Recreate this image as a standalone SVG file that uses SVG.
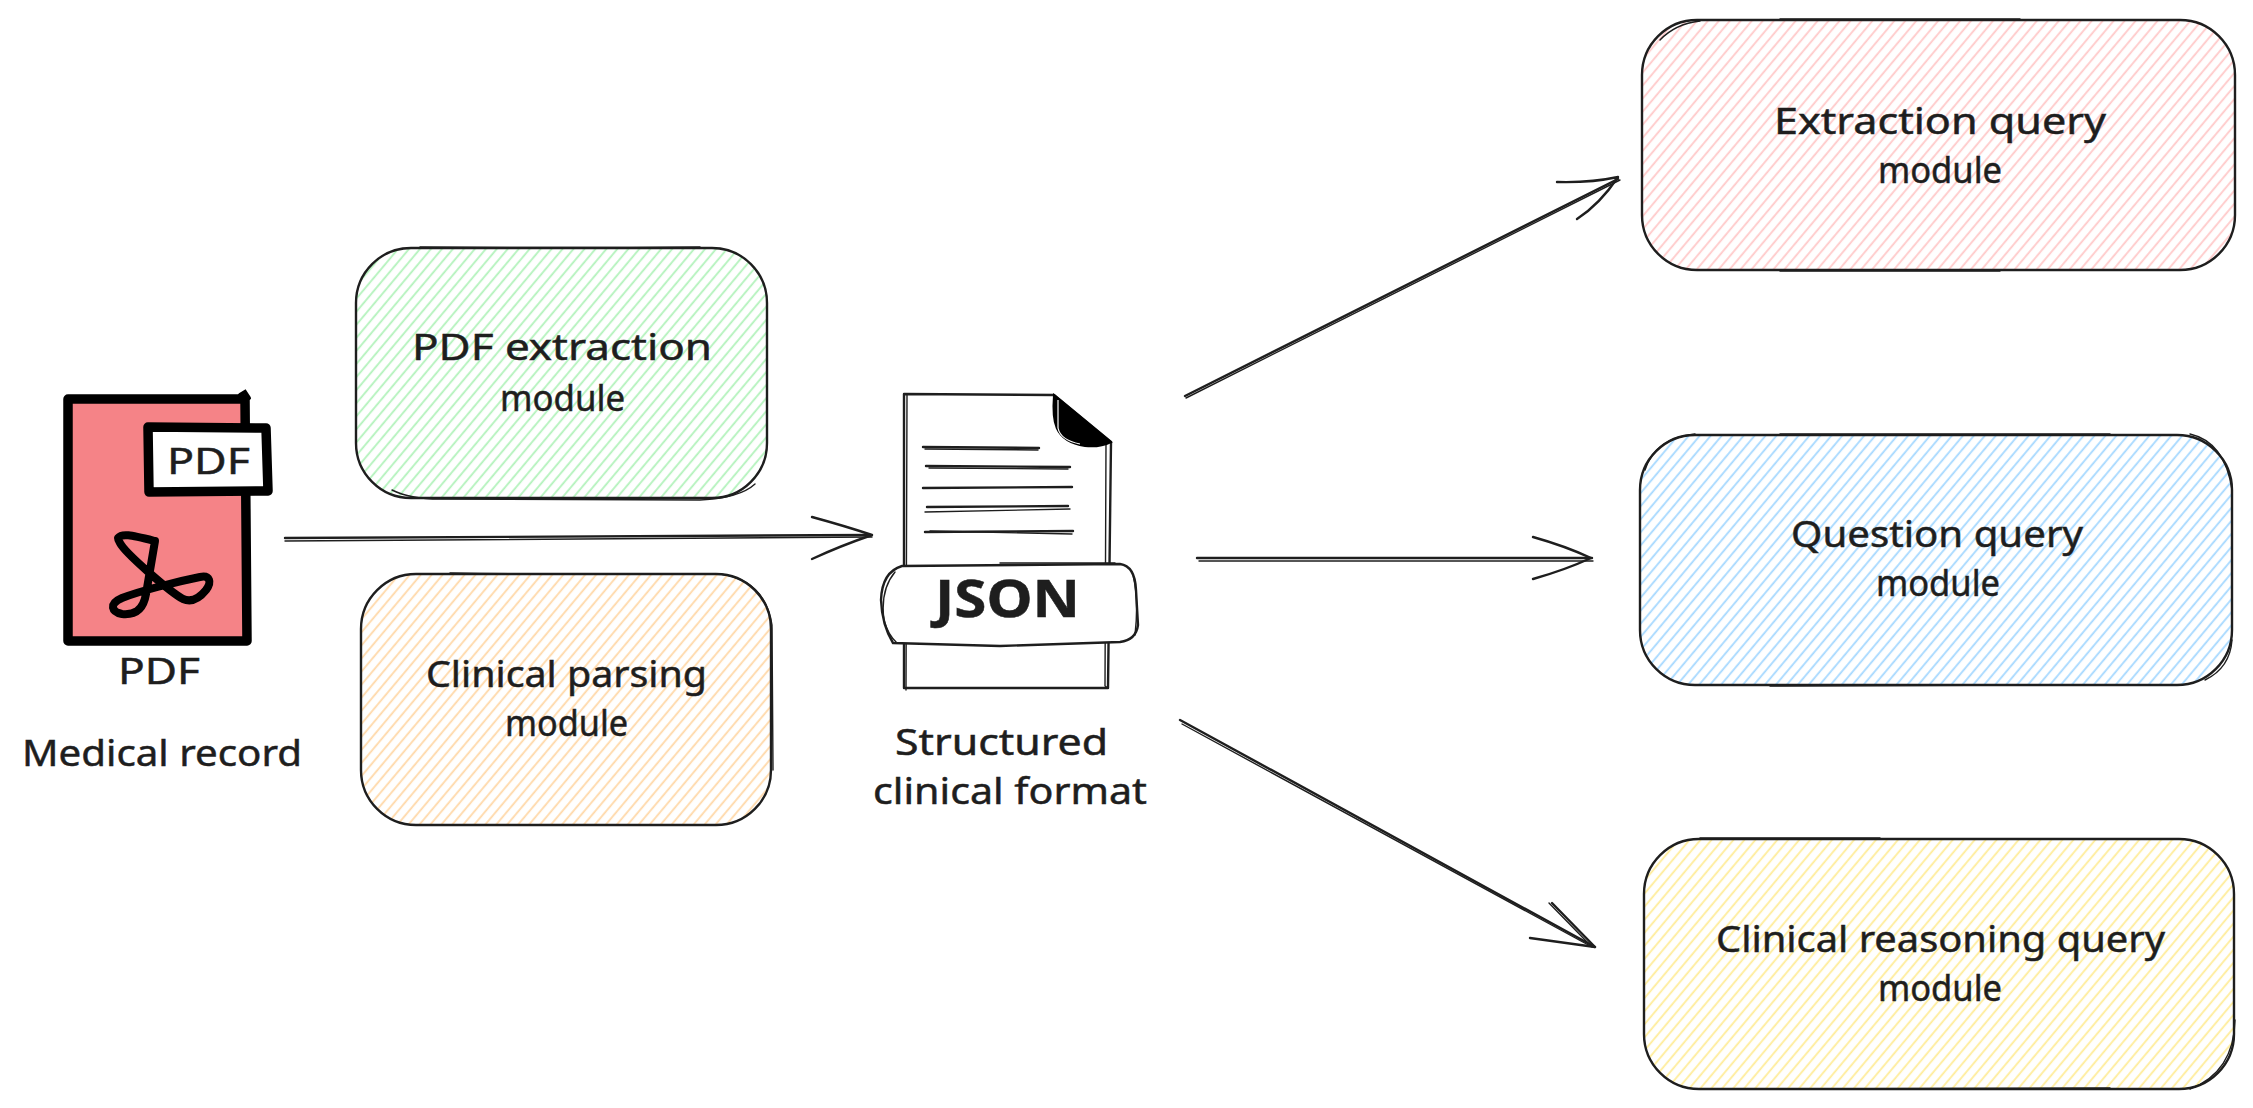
<svg xmlns="http://www.w3.org/2000/svg" width="2253" height="1108" viewBox="0 0 2253 1108">
<style>
.t{font-family:"Noto Sans","Liberation Sans",sans-serif;font-size:37px;fill:#1e1e1e;stroke:#1e1e1e;stroke-width:.5}
.o{fill:none;stroke:#1e1e1e;stroke-width:2.4;stroke-linecap:round;stroke-linejoin:round}
.o2{fill:none;stroke:#1e1e1e;stroke-width:1.4;stroke-linecap:round;stroke-linejoin:round}
.h{stroke-width:1.8}
.k{fill:none;stroke:#000;stroke-linejoin:round;stroke-linecap:round}
</style>
<defs>
<pattern id="hg" width="8.4" height="40" patternUnits="userSpaceOnUse" patternTransform="rotate(40)"><line class="h" x1="3" y1="0" x2="3" y2="40" stroke="#b2f2bb"/></pattern>
<pattern id="ho" width="8.4" height="40" patternUnits="userSpaceOnUse" patternTransform="rotate(40)"><line class="h" x1="3" y1="0" x2="3" y2="40" stroke="#ffd8a8"/></pattern>
<pattern id="hp" width="8.4" height="40" patternUnits="userSpaceOnUse" patternTransform="rotate(40)"><line class="h" x1="3" y1="0" x2="3" y2="40" stroke="#ffc9c9"/></pattern>
<pattern id="hb" width="8.4" height="40" patternUnits="userSpaceOnUse" patternTransform="rotate(40)"><line class="h" x1="3" y1="0" x2="3" y2="40" stroke="#a5d8ff"/></pattern>
<pattern id="hy" width="8.4" height="40" patternUnits="userSpaceOnUse" patternTransform="rotate(40)"><line class="h" x1="3" y1="0" x2="3" y2="40" stroke="#ffec99"/></pattern>
</defs>
<rect width="2253" height="1108" fill="#fff"/>

<g id="connectors">
<path class="o" d="M285 538 L870 535"/><path class="o2" d="M285 541 L872 537"/>
<path class="o" d="M812 517 Q845 526 872 535 Q840 546 812 559"/>
<path class="o" d="M1197 558 L1592 558"/><path class="o2" d="M1199 561 L1593 561"/>
<path class="o" d="M1533 537 Q1565 546 1591 558 Q1565 570 1533 579"/>
<path class="o" d="M1185 396 L1618 179"/><path class="o2" d="M1186 398 L1620 180"/>
<path class="o" d="M1557 182 Q1590 183 1618 177 Q1600 204 1577 219"/>
<path class="o" d="M1180 720 L1595 947"/><path class="o2" d="M1182 724 L1592 947"/>
<path class="o" d="M1552 903 L1595 947 L1530 938"/><path class="o2" d="M1549 903 L1590 945"/>
</g>

<g id="pdf-icon">
<path d="M68 399 L245 399 L247 641 L68 641 Z" fill="#f58387" stroke="#000" stroke-width="9.5" stroke-linejoin="round"/>
<path d="M240 395 L245 392 L249 398" fill="none" stroke="#000" stroke-width="4" stroke-linecap="round"/>
<path d="M148 427 L266 428 L268 491 L149 492 Z" fill="#fff" stroke="#000" stroke-width="9.5" stroke-linejoin="round"/>
<path class="k" stroke-width="8" d="M118 538 C122 533 130 535 155 541 L146 594 C143 612 133 615 122 614 C112 612 108 604 122 598 C140 591 175 582 200 577 C210 575 212 582 206 590 C198 600 190 602 183 599 C170 592 125 553 120 543 Q118 540 118 538 Z"/>
<text class="t" x="167" y="474" textLength="83" lengthAdjust="spacingAndGlyphs">PDF</text>
<text class="t" x="118" y="684" textLength="82" lengthAdjust="spacingAndGlyphs">PDF</text>
<text class="t" x="22" y="766" textLength="280" lengthAdjust="spacingAndGlyphs">Medical record</text>
</g>

<g id="pdf-extraction-module">
<rect x="356" y="248" width="411" height="250" rx="55" fill="url(#hg)"/>
<rect class="o" x="356" y="248" width="411" height="250" rx="55"/>
<path class="o2" d="M420 247 Q560 248 700 247 M392 490 Q410 499 440 499 L700 500 Q740 498 755 484"/>
<text class="t" x="412" y="360" textLength="300" lengthAdjust="spacingAndGlyphs">PDF extraction</text>
<text class="t" x="500" y="411" textLength="125" lengthAdjust="spacingAndGlyphs">module</text>
</g>

<g id="clinical-parsing-module">
<rect x="361" y="574" width="410" height="251" rx="55" fill="url(#ho)"/>
<rect class="o" x="361" y="574" width="410" height="251" rx="55"/>
<path class="o2" d="M450 573 Q600 575 720 574 Q765 580 772 625 L773 770"/>
<text class="t" x="426" y="687" textLength="281" lengthAdjust="spacingAndGlyphs">Clinical parsing</text>
<text class="t" x="505" y="736" textLength="123" lengthAdjust="spacingAndGlyphs">module</text>
</g>

<g id="structured-json">
<path d="M904 395 L1054 395 L1111 442 L1109 688 L904 688 Z" fill="#fff"/>
<path class="o" d="M904 394 L1054 395 L1111 442 L1108 688 L904 688 Z"/>
<path class="o2" d="M907 395 L906 690 M1106 442 L1105 686 L1108 688"/>
<path d="M1054 395 C1052 420 1053 441 1085 446 C1095 447 1105 445 1111 442 Z" fill="#000" stroke="#000" stroke-width="2"/>
<path d="M1058 400 L1058 428 C1060 438 1070 442 1080 444" fill="none" stroke="#fff" stroke-width="1.2"/>
<path class="o" d="M923 447 L1039 448"/><path class="o2" d="M925 449 L1038 450"/>
<path class="o" d="M926 466 L1070 467"/><path class="o2" d="M929 468 L1068 469"/>
<path class="o" d="M923 488 L1072 487"/>
<path class="o" d="M927 507 L1068 506"/><path class="o2" d="M925 512 L1070 509"/>
<path class="o" d="M925 532 L1073 531"/><path class="o2" d="M930 531 L1072 534"/>
<path d="M902 566 L1120 564 Q1135 566 1136 590 L1138 625 Q1136 640 1120 642 L1000 646 L893 643 Q882 625 881 600 Q882 572 902 566 Z" fill="#fff"/>
<path class="o" d="M902 566 L1120 564 Q1135 566 1136 590 L1138 625 Q1136 640 1120 642 L1000 646 L893 643 Q882 625 881 600 Q882 572 902 566 Z"/>
<path class="o2" d="M895 572 Q880 590 884 620 Q888 635 897 643 M1133 575 Q1139 600 1135 635 M1000 563 L1115 563"/>
<text class="t" x="935" y="617" textLength="145" lengthAdjust="spacingAndGlyphs" style="font-size:52px;font-weight:700">JSON</text>
<text class="t" x="895" y="755" textLength="213" lengthAdjust="spacingAndGlyphs">Structured</text>
<text class="t" x="873" y="804" textLength="274" lengthAdjust="spacingAndGlyphs">clinical format</text>
</g>

<g id="extraction-query-module">
<rect x="1642" y="20" width="593" height="250" rx="55" fill="url(#hp)"/>
<rect class="o" x="1642" y="20" width="593" height="250" rx="55"/>
<path class="o2" d="M1780 19 L2020 19 M1660 40 Q1675 24 1700 21 M1780 271 L2000 271"/>
<text class="t" x="1774" y="134" textLength="332" lengthAdjust="spacingAndGlyphs">Extraction query</text>
<text class="t" x="1878" y="183" textLength="124" lengthAdjust="spacingAndGlyphs">module</text>
</g>

<g id="question-query-module">
<rect x="1640" y="435" width="592" height="250" rx="55" fill="url(#hb)"/>
<rect class="o" x="1640" y="435" width="592" height="250" rx="55"/>
<path class="o2" d="M1780 434 L2110 434 M1645 470 Q1655 438 1695 434 M1770 686 L2050 685 M2232 640 Q2230 668 2205 680 M2190 434 Q2225 442 2232 490"/>
<text class="t" x="1791" y="547" textLength="292" lengthAdjust="spacingAndGlyphs">Question query</text>
<text class="t" x="1876" y="596" textLength="124" lengthAdjust="spacingAndGlyphs">module</text>
</g>

<g id="clinical-reasoning-query-module">
<rect x="1644" y="839" width="590" height="250" rx="55" fill="url(#hy)"/>
<rect class="o" x="1644" y="839" width="590" height="250" rx="55"/>
<path class="o2" d="M1700 838 L1880 838 M1780 1089 L2110 1088 M2235 1020 Q2234 1072 2190 1089"/>
<text class="t" x="1716" y="952" textLength="449" lengthAdjust="spacingAndGlyphs">Clinical reasoning query</text>
<text class="t" x="1878" y="1001" textLength="124" lengthAdjust="spacingAndGlyphs">module</text>
</g>
</svg>
